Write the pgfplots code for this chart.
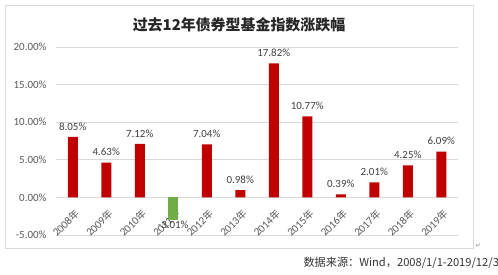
\documentclass[border=0pt]{standalone}
\usepackage{pgfplots}
\pgfplotsset{compat=1.18}
\usepackage{fontspec}
\setmainfont{Carlito}
\newfontfamily\cjk{Noto Sans CJK SC}
\newfontfamily\arrowfont{DejaVu Sans}
\definecolor{barred}{HTML}{C00000}
\definecolor{bargreen}{HTML}{70AD47}
\definecolor{gridgray}{HTML}{D9D9D9}
\definecolor{ticktext}{HTML}{595959}
\definecolor{labtext}{HTML}{404040}
\newcommand{\nian}{{\cjk\fontsize{10}{10}\selectfont 年}}
\begin{document}
\begin{tikzpicture}[x=1bp,y=1bp]
\path[use as bounding box] (0,0) rectangle (498,274);
\draw[gridgray, line width=0.8bp] (5,26) rectangle (473,269);
\node[font=\cjk\bfseries\fontsize{15}{15}\selectfont, text=black!85] at (239,249) {过去12年债券型基金指数涨跌幅};
\node[anchor=west, font=\cjk\fontsize{11.2}{11.2}\selectfont, text=black!80] at (300,11) {数据来源：Wind，2008/1/1-2019/12/31};
\node[font=\arrowfont\fontsize{6}{6}\selectfont, text=gray] at (478,28) {↵};
\begin{axis}[
  at={(56bp,39bp)}, anchor=south west,
  scale only axis, width=402bp, height=188bp,
  xmin=-0.5, xmax=11.5, ymin=-5, ymax=20,
  axis line style={draw=none},
  major tick length=0pt,
  ytick={-5,0,5,10,15,20},
  ymajorgrids, grid style={gridgray, line width=0.8bp},
  xtick={0,...,11},
  xticklabels={2008\nian,2009\nian,2010\nian,2011\nian,2012\nian,2013\nian,2014\nian,2015\nian,2016\nian,2017\nian,2018\nian,2019\nian},
  xticklabel style={font=\fontsize{11}{11}\selectfont, text=ticktext, yshift=26bp, xshift=7bp, rotate=45, anchor=east},
  /pgf/number format/assume math mode=true,
  yticklabel={\pgfmathprintnumber[fixed,fixed zerofill,precision=2]{\tick}\%},
  yticklabel style={font=\fontsize{11}{11}\selectfont, text=ticktext, xshift=-6bp},
  ybar, bar width=10bp, bar shift=0pt,
  nodes near coords={\pgfmathprintnumber[fixed,fixed zerofill,precision=2]{\pgfplotspointmeta}\%},
  nodes near coords style={font=\fontsize{11}{11}\selectfont, text=labtext, yshift=3bp},
  clip=false,
]
\addplot[fill=barred, draw=none] coordinates {(0,8.05) (1,4.63) (2,7.12) (4,7.04) (5,0.98) (6,17.82) (7,10.77) (8,0.39) (9,2.01) (10,4.25) (11,6.09)};
\addplot[fill=bargreen, draw=none] coordinates {(3,-3.01)};
\end{axis}
\end{tikzpicture}
\end{document}
